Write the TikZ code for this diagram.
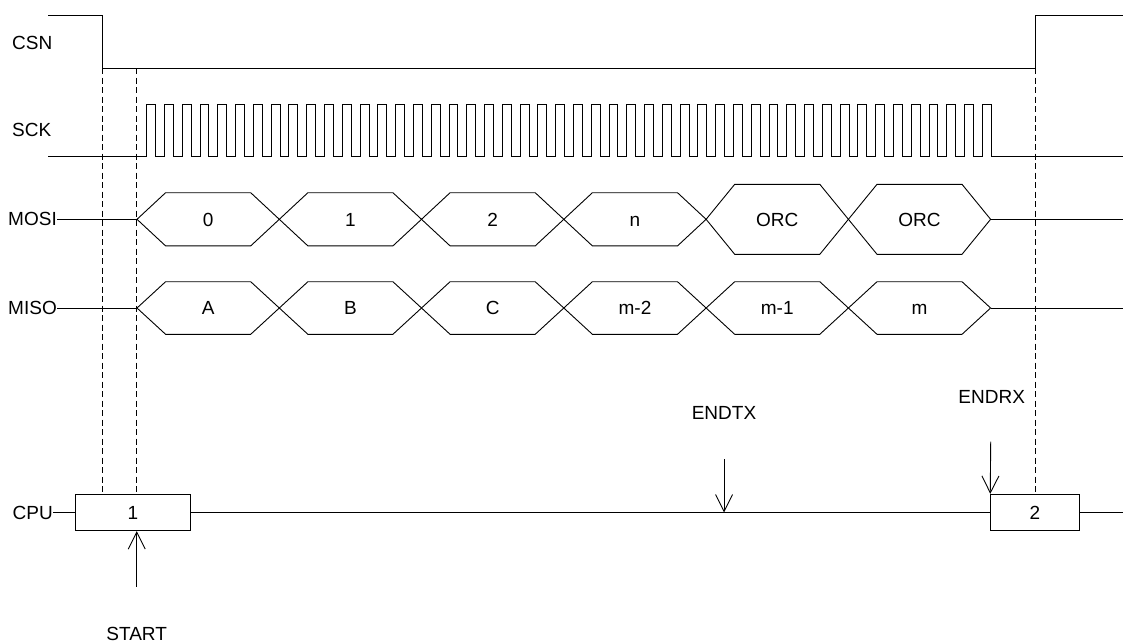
\documentclass[tikz,border=0pt]{standalone}
\usepackage{fontspec}
\setmainfont{Liberation Sans}
\usetikzlibrary{arrows.meta}
\newcommand\hexcell[6]{% #1 left x, #2 right x, #3 centre y, #4 half height, #5 name, #6 text
  \draw[sig] (#1,#3) -- ({#1+28.6},{#3-#4}) -- ({#2-28.6},{#3-#4}) -- (#2,#3)
    -- ({#2-28.6},{#3+#4}) -- ({#1+28.6},{#3+#4}) -- cycle;
  \node[lbl,anchor=base] (#5) at ({(#1+#2)/2},{#3+6.8}) {#6};}
\begin{document}
\begin{tikzpicture}[x=1pt,y=-1pt,
  sig/.style={line width=0.9pt, draw=black},
  guide/.style={line width=0.8pt, draw=black, dash pattern=on 6pt off 3.5pt},
  lbl/.style={font=\fontsize{19}{22}\selectfont, inner sep=0pt},
  evt/.style={line width=0.9pt, -{Straight Barb[length=17pt,width=17pt]}},
  cpubox/.style={draw, line width=0.9pt, minimum height=36.3pt, inner sep=0pt,
    font=\fontsize{19}{22}\selectfont}]
\useasboundingbox (0,0) rectangle (1123,643);

% signal names
\node[lbl,anchor=west] (csn) at (12,42.7) {CSN};
\node[lbl,anchor=west] (sck) at (12,130) {SCK};
\node[lbl,anchor=east] (mosi) at (57,219.3) {MOSI};
\node[lbl,anchor=east] (miso) at (57,308) {MISO};
\node[lbl,anchor=east] (cpu) at (53,512.5) {CPU};

% CSN
\draw[sig] (48,15) -- (102,15) -- (102,68) -- (1035,68) -- (1035,15) -- (1123,15);

% SCK
\draw[sig] (48,156.7) -- (146.7,156.7)
  \foreach \i in {0,...,47} {
    -- ({146.7+17.78*\i},104) -- ({146.7+17.78*\i+8.9},104)
    -- ({146.7+17.78*\i+8.9},156.7) -- ({146.7+17.78*(\i+1)},156.7) }
  -- (1123,156.7);

% MOSI
\coordinate (mosiS) at (137,219.3);
\coordinate (mosiE) at (990.6,219.3);
\coordinate (mosiR) at (1123,219.3);
\draw[sig] (mosi.east) -- (mosiS);
\draw[sig] (mosiE) -- (mosiR);
\hexcell{137}{279.3}{219.3}{26.6}{d0}{0}
\hexcell{279.3}{421.5}{219.3}{26.6}{d1}{1}
\hexcell{421.5}{563.8}{219.3}{26.6}{d2}{2}
\hexcell{563.8}{706.1}{219.3}{26.6}{dn}{n}
\hexcell{706.1}{848.4}{219.3}{35}{dorc1}{ORC}
\hexcell{848.4}{990.6}{219.3}{35}{dorc2}{ORC}

% MISO
\coordinate (misoS) at (137,308);
\coordinate (misoE) at (990.6,308);
\coordinate (misoR) at (1123,308);
\draw[sig] (miso.east) -- (misoS);
\draw[sig] (misoE) -- (misoR);
\hexcell{137}{279.3}{308}{26.3}{qa}{A}
\hexcell{279.3}{421.5}{308}{26.3}{qb}{B}
\hexcell{421.5}{563.8}{308}{26.3}{qc}{C}
\hexcell{563.8}{706.1}{308}{26.3}{qm2}{m-2}
\hexcell{706.1}{848.4}{308}{26.3}{qm1}{m-1}
\hexcell{848.4}{990.6}{308}{26.3}{qm}{m}

% CPU
\node[cpubox, minimum width=115.4pt] (b1) at (133,512.5) {1};
\node[cpubox, minimum width=88.6pt] (b2) at (1035,512.5) {2};
\coordinate (cpuR) at (1123,512.5);
\draw[sig] (cpu.east) -- (b1.west);
\draw[sig] (b1.east) -- (b2.west);
\draw[sig] (b2.east) -- (cpuR);

% guides
\coordinate (g1) at (102,68);
\coordinate (g2) at (136.7,68);
\coordinate (g3) at (1035,68);
\draw[guide] (g1) -- (g1 |- b1.north);
\draw[guide] (g2) -- (g2 |- b1.north);
\draw[guide] (g3) -- (b2.north);

% events
\node[lbl] (start) at (136.7,634) {START};
\coordinate (startT) at (136.7,586.7);
\draw[evt] (startT) -- (startT |- b1.south);

\node[lbl] (endtx) at (724,413) {ENDTX};
\coordinate (endtxT) at (724,459.3);
\draw[evt] (endtxT) -- (endtxT |- b1.east);

\node[lbl] (endrx) at (991.7,397.3) {ENDRX};
\coordinate (endrxT) at (990.7,441.7);
\draw[evt] (endrxT) -- (b2.north west);
\end{tikzpicture}
\end{document}
